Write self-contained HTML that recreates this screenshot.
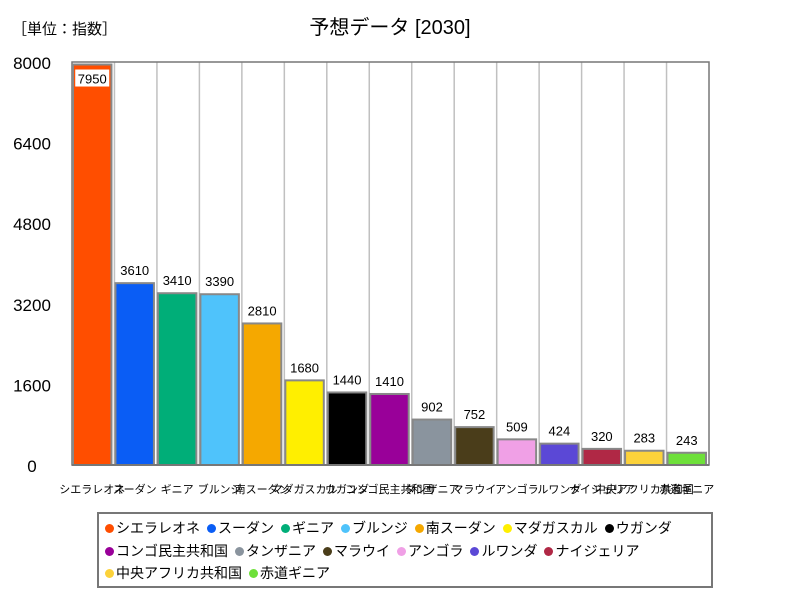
<!DOCTYPE html>
<html><head><meta charset="utf-8"><style>
body{margin:0;background:#fff;font-family:"Liberation Sans","Noto Sans CJK JP",sans-serif;}
#wrap{position:relative;width:800px;height:600px;overflow:hidden;}
.leg{position:absolute;left:97px;top:512px;width:616px;height:76px;border:2px solid #777;box-sizing:border-box;font-size:14px;padding:3px 6px;line-height:22.5px;}
.li{display:inline-block;margin-right:7px;white-space:nowrap;}
.dot{display:inline-block;width:9px;height:9px;border-radius:50%;margin-right:2px;vertical-align:0px;}
</style></head><body>
<div id="wrap">
<svg id="svg" width="800" height="600" style="position:absolute;left:0;top:0">
<text x="12" y="34" font-size="15" font-family="Liberation Sans,Noto Sans CJK JP,sans-serif">［単位：指数］</text>
<text x="390" y="34" font-size="20" text-anchor="middle" font-family="Liberation Sans,Noto Sans CJK JP,sans-serif">予想データ [2030]</text>
</svg>
<div class="leg" id="leg"></div>
</div>
<script>
const categories=["シエラレオネ","スーダン","ギニア","ブルンジ","南スーダン","マダガスカル","ウガンダ","コンゴ民主共和国","タンザニア","マラウイ","アンゴラ","ルワンダ","ナイジェリア","中央アフリカ共和国","赤道ギニア"];
const values=[7950,3610,3410,3390,2810,1680,1440,1410,902,752,509,424,320,283,243];
const colors=["#ff4e00","#0a5df5","#00ae78","#4fc3fb","#f5a800","#ffef00","#000000","#990099","#8a949e","#4a3d1a","#f0a0e6","#5b48d6","#b02845","#fcd23a","#6ee03a"];
const ticks=[0,1600,3200,4800,6400,8000];
const NS="http://www.w3.org/2000/svg";
const svg=document.getElementById('svg');
const L=72,R=709,T=62,B=465,YMAX=8000;
const y=v=>B-(v/YMAX)*(B-T);
const slot=(R-L)/categories.length;
const x=i=>L+i*slot;
function mk(tag,attrs,parent){const e=document.createElementNS(NS,tag);for(const k in attrs)e.setAttribute(k,attrs[k]);(parent||svg).appendChild(e);return e;}
const F="Liberation Sans,Noto Sans CJK JP,sans-serif";
// grid
for(let i=1;i<categories.length;i++){const g=mk('line',{x1:x(i),x2:x(i),y1:T,y2:B,stroke:'#c0c0c0','stroke-width':1.5});

}
ticks.forEach(t=>{const tx=mk('text',{x:32,y:y(t)+7,'font-size':17,'text-anchor':'middle','font-family':F});tx.textContent=t;

});
const frame=mk('rect',{x:L,y:T,width:R-L,height:B-T,fill:'none',stroke:'#777','stroke-width':1.5});


values.forEach((v,i)=>{
 const bx=x(i)+1,bw=slot-4,by=y(v);
 const r=mk('rect',{x:bx,y:by,width:bw,height:B-by,fill:colors[i],stroke:'#888','stroke-width':2});
 
 
 const cx=bx+bw/2;
 let ly=by-8;
 if(v>7500){ly=by+19;const bg=mk('rect',{x:cx-17,y:by+5,width:34,height:17,fill:'#fff'});
 
 }
 const t=mk('text',{x:cx,y:ly,'font-size':13,'text-anchor':'middle','font-family':F});t.textContent=v;
 
 
 const c=mk('text',{x:cx,y:493,'font-size':11,'text-anchor':'middle','font-family':F});c.textContent=categories[i];
 
 
});
const axis=mk('line',{x1:L,x2:R,y1:B,y2:B,stroke:'#777','stroke-width':2});


const leg=document.getElementById('leg');
categories.forEach((c,i)=>{const s=document.createElement('span');s.className='li';


s.innerHTML='<span class="dot" style="background:'+colors[i]+'"></span>'+c;leg.appendChild(s);
if(i==6||i==12)leg.appendChild(document.createElement('br'));});
</script>
</body></html>
